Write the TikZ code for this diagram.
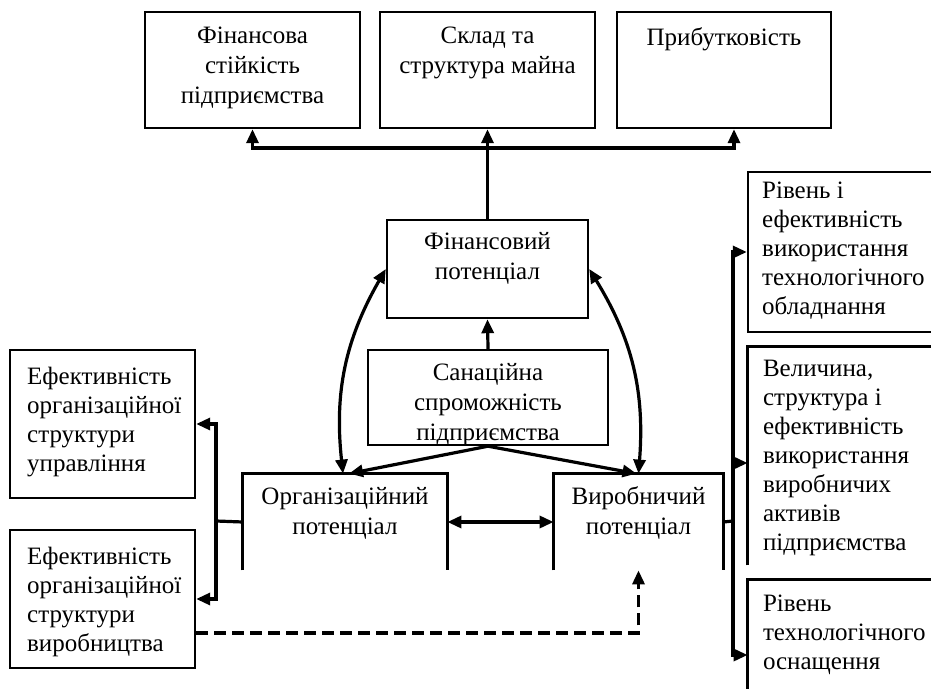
\documentclass[tikz,border=0pt]{standalone}
\usepackage{fontspec}
\setmainfont{Liberation Serif}
\usetikzlibrary{arrows.meta,positioning}
\tikzset{>/.tip={Triangle[length=7pt,width=6pt]},
  box/.style={draw,line width=1.2pt,inner sep=0pt},
  openbox/.style={draw=none,inner sep=0pt},
  edges/.style={line width=1.2pt},
  conn/.style={line width=1.6pt},
  txt/.style={inner sep=0pt,align=center,font=\fontsize{12.5}{15}\selectfont},
  ltxt/.style={inner sep=0pt,align=left,font=\fontsize{12.5}{14.5}\selectfont}}

\begin{document}
\begin{tikzpicture}[x=0.5pt,y=-0.5pt]
\useasboundingbox (0,0) rectangle (931,689);

% top row
\node[box,minimum width=107.5pt,minimum height=58pt] (fin-st) at (252.5,70) {};
\node[box,minimum width=107.5pt,minimum height=58pt] (sklad) at (487.5,70) {};
\node[box,minimum width=107pt,minimum height=58pt] (prib) at (724,70) {};
\node[txt,below=8pt of fin-st.north] (fin-st-t) {Фінансова\\стійкість\\підприємства};
\node[txt,below=8pt of sklad.north] (sklad-t) {Склад та\\структура  майна};
\node[txt,below=8pt of prib.north] (prib-t) {Прибутковість};

% middle
\node[box,minimum width=100.5pt,minimum height=49pt] (fin-pot) at (487.5,269) {};
\node[txt,below=6.5pt of fin-pot.north] (fin-pot-t) {Фінансовий\\потенціал};
\node[box,minimum width=120pt,minimum height=47.5pt] (sanac) at (488,397.5) {};
\node[txt,below=7pt of sanac.north] (sanac-t) {Санаційна\\спроможність\\підприємства};

\node[openbox,minimum width=102pt,minimum height=48pt] (org) at (345,522) {};
\node[openbox,minimum width=84.5pt,minimum height=48pt] (vyr) at (638.5,522) {};
\draw[edges] (org.south west) -- (org.north west) -- (org.north east) -- (org.south east);
\draw[edges] (vyr.south west) -- (vyr.north west) -- (vyr.north east) -- (vyr.south east);
\node[txt,below=6.5pt of org.north] (org-t) {Організаційний\\потенціал};
\node[txt,below=6.5pt of vyr.north] (vyr-t) {Виробничий\\потенціал};

% left column
\node[box,minimum width=92.5pt,minimum height=74pt] (upr) at (102.5,424) {};
\node[box,minimum width=92.5pt,minimum height=69pt] (vyrob) at (102.5,599) {};
\node[ltxt,below right=9pt and 9pt of upr.north west] (upr-t) {Ефективність\\організаційної\\структури\\управління};
\node[ltxt,below right=9pt and 9pt of vyrob.north west] (vyrob-t) {Ефективність\\організаційної\\структури\\виробництва};

% right column
\node[box,minimum width=106pt,minimum height=80pt] (r-obl) at (854,252) {};
\node[openbox,minimum width=106pt,minimum height=109pt] (r-akt) at (854,456) {};
\node[openbox,minimum width=106pt,minimum height=75pt] (r-osn) at (854,655) {};
\draw[edges] (r-akt.south west) -- (r-akt.north west) -- (r-akt.north east);
\draw[edges] (r-osn.south west) -- (r-osn.north west) -- (r-osn.north east);
\node[ltxt,below right=5.5pt and 7.5pt of r-obl.north west] (r-obl-t) {Рівень і\\ефективність\\використання\\технологічного\\обладнання};
\node[ltxt,below right=6.5pt and 7.5pt of r-akt.north west] (r-akt-t) {Величина,\\структура і\\ефективність\\використання\\виробничих\\активів\\підприємства};
\node[ltxt,below right=7.5pt and 7.5pt of r-osn.north west] (r-osn-t) {Рівень\\технологічного\\оснащення};

% connectors
\coordinate (tj) at (487.5,148);
\coordinate (lt) at (216,521);
\coordinate (rt) at (733,521);

\draw[conn,->] (fin-pot.north) -- (sklad.south);
\draw[conn,->] (tj) -| (fin-st.south);
\draw[conn,->] (tj) -| ([xshift=5pt]prib.south);
\draw[conn,->] (sanac.north) -- (fin-pot.south);
\draw[conn,->] (sanac.south) -- ([xshift=2pt]org.north);
\draw[conn,->] (sanac.south) -- ([xshift=-1pt]vyr.north);
\draw[conn,<->] (fin-pot.west) to[bend right=18] ([xshift=-1pt]org.north);
\draw[conn,<->] (fin-pot.east) to[bend left=18] (vyr.north);
\draw[conn,<->] (org.east) -- (vyr.west);

\draw[conn] (org.west) -- (lt);
\draw[conn,->] (lt) |- (upr.east);
\draw[conn,->] (lt) |- (vyrob.east);
\draw[conn,dashed,dash pattern=on 6pt off 3pt,->] ([yshift=-17pt]vyrob.east) -| (vyr.south);

\draw[conn] (vyr.east) -- (rt);
\draw[conn,->] (rt) |- (r-obl.west);
\draw[conn,->] (rt) |- ([yshift=-3.5pt]r-akt.west);
\draw[conn,->] (rt) |- (r-osn.west);
\end{tikzpicture}
\end{document}
